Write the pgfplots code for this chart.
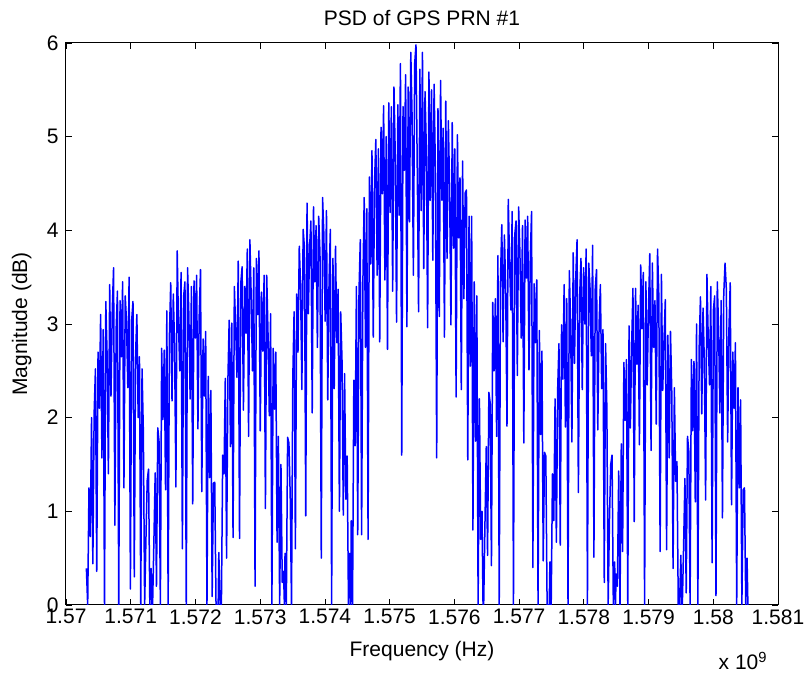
\documentclass[border=0pt]{standalone}
\usepackage{fontspec}
\setmainfont{Liberation Sans}
\usepackage{pgfplots}
\pgfplotsset{compat=1.18}
\begin{document}
\fontsize{10.5}{12.6}\selectfont
\begin{tikzpicture}
\begin{axis}[
  name=ax,
  scale only axis, width=356pt, height=281pt,
  xmin=0, xmax=11000, ymin=0, ymax=6,
  scaled x ticks=false,
  xtick={0,1000,2000,3000,4000,5000,6000,7000,8000,9000,10000,11000},
  xticklabels={1.57,1.571,1.572,1.573,1.574,1.575,1.576,1.577,1.578,1.579,1.58,1.581},
  ytick={0,1,2,3,4,5,6},
  tick align=inside, major tick length=3pt,
  tick style={black, line width=0.4pt},
  axis line style={black, line width=0.5pt},
  /pgf/number format/assume math mode=true,
  ticklabel style={font=\fontsize{10.5}{12.6}\selectfont},
  xticklabel style={yshift=1.5pt},
]
\addplot[color={rgb,1:red,0;green,0;blue,1}, line width=0.75pt, line join=round] coordinates {
(315,0.39)(335,0)(355,1.25)(375,0.73)(395,2.0)(415,0.44)(435,2.05)(455,2.52)(475,0.36)(495,2.7)
(515,2.1)(535,3.1)(555,1.57)(575,2.94)(595,0)(615,3.24)(635,2.67)(655,1.4)(675,3.42)(695,2.23)
(715,3.15)(735,3.6)(755,0.85)(775,2.95)(795,3.35)(815,0)(835,3.25)(855,2.65)(875,3.45)(895,1.25)
(915,3.3)(935,3.03)(955,2.32)(975,3.5)(995,0.17)(1015,3.04)(1035,3.24)(1055,0.3)(1075,2.67)(1095,3.1)
(1115,2.0)(1135,2.65)(1155,0)(1175,2.52)(1195,1.85)(1215,0)(1235,0.7)(1255,1.33)(1275,1.45)(1295,0)
(1315,0.39)(1328,0)
(1338,0)(1358,0.68)(1378,1.41)(1398,0.2)(1418,1.89)(1438,1.74)(1458,0)(1478,2.74)(1498,1.98)(1518,2.72)
(1538,1.23)(1558,3.14)(1578,0)(1598,2.88)(1618,3.44)(1638,2.18)(1658,3.32)(1678,2.75)(1698,1.26)(1718,3.78)
(1738,3.0)(1758,2.5)(1778,3.55)(1798,0.6)(1818,3.3)(1838,3.45)(1858,0)(1878,3.6)(1898,3.1)(1918,2.2)
(1938,3.4)(1958,1.08)(1978,3.46)(1998,2.85)(2018,3.52)(2038,1.88)(2058,3.09)(2078,3.58)(2098,1.21)(2118,2.84)
(2138,2.23)(2158,2.92)(2178,0)(2198,2.44)(2218,1.36)(2238,2.29)(2258,0.09)(2278,1.3)(2298,1.31)(2318,0)
(2338,0)(2351,0)
(2361,0.56)(2381,0)(2401,0)(2421,1.6)(2441,1.4)(2461,2.42)(2481,0.5)(2501,2.39)(2521,3.04)(2541,1.69)
(2561,3.01)(2581,0.72)(2601,3.4)(2621,2.97)(2641,2.43)(2661,3.67)(2681,0.71)(2701,3.44)(2721,3.61)(2741,2.08)
(2761,3.4)(2781,2.9)(2801,3.8)(2821,1.8)(2841,3.9)(2861,3.3)(2881,2.5)(2901,3.6)(2921,0.2)(2941,3.7)
(2961,3.1)(2981,3.78)(3001,1.86)(3021,3.34)(3041,2.71)(3061,3.52)(3081,1.03)(3101,3.52)(3121,2.9)(3141,2.02)
(3161,3.11)(3181,0)(3201,2.74)(3221,2.09)(3241,2.7)(3261,0.67)(3281,1.8)(3301,0)(3321,1.5)(3341,0.24)
(3361,0.36)(3374,0)
(3384,0.55)(3404,0)(3424,1.79)(3444,1.73)(3464,1.17)(3484,0)(3504,2.42)(3524,3.13)(3544,0.6)(3564,3.32)
(3584,2.7)(3604,3.83)(3624,3.41)(3644,2.3)(3664,4.01)(3684,3.81)(3704,0.95)(3724,4.29)(3744,3.11)(3764,3.83)
(3784,4.1)(3804,2.05)(3824,4.25)(3844,3.45)(3864,4.05)(3884,2.75)(3904,4.15)(3924,3.75)(3944,0.5)(3964,4.35)
(3984,3.95)(4004,3.03)(4024,4.21)(4044,2.19)(4064,3.45)(4084,4.01)(4104,0)(4124,3.7)(4144,2.31)(4164,3.83)
(4184,2.8)(4204,3.37)(4224,1.0)(4244,3.13)(4264,2.62)(4284,0.96)(4304,2.47)(4324,1.13)(4344,1.59)(4364,0)
(4384,0.55)(4397,0)
(4407,0.9)(4427,0)(4447,2.4)(4467,1.7)(4487,3.4)(4507,0.75)(4527,3.35)(4547,3.9)(4567,0.75)(4587,3.45)
(4607,4.35)(4627,2.75)(4647,4.23)(4667,0.7)(4687,4.57)(4707,3.64)(4727,4.85)(4747,2.86)(4767,4.52)(4787,4.97)
(4807,3.52)(4827,4.87)(4847,2.81)(4867,5.1)(4887,4.39)(4907,5.33)(4927,3.47)(4947,5.0)(4967,2.73)(4987,5.36)
(5007,4.19)(5027,5.32)(5047,3.35)(5067,5.53)(5087,4.8)(5107,3.02)(5127,5.34)(5147,4.16)(5167,5.78)(5187,1.6)
(5207,5.32)(5227,4.64)(5247,5.66)(5267,2.97)(5287,5.53)(5307,4.09)(5327,5.9)(5347,5.21)(5367,3.52)(5387,5.78)
(5407,5.98)(5427,4.64)(5447,3.13)(5467,5.72)(5487,4.21)(5507,5.9)(5527,3.59)(5547,5.48)(5567,4.87)(5587,2.96)
(5607,5.69)(5627,4.32)(5647,5.5)(5667,3.68)(5687,5.56)(5707,4.64)(5727,1.57)(5747,5.3)(5767,3.08)(5787,5.6)
(5807,4.32)(5827,5.09)(5847,2.86)(5867,5.38)(5887,3.7)(5907,5.17)(5927,4.43)(5947,2.99)(5967,5.15)(5987,3.81)
(6007,4.87)(6027,2.22)(6047,5.02)(6067,3.92)(6087,4.56)(6107,2.3)(6127,4.74)(6147,3.27)(6167,4.4)(6187,4.43)
(6207,1.55)(6227,4.15)(6247,2.55)(6267,4.15)(6287,0.8)(6307,3.45)(6327,1.75)(6347,3.3)(6367,0)(6387,2.2)
(6407,0.7)(6427,1.0)(6443,0)
(6453,0)(6473,0.88)(6493,1.69)(6513,0.53)(6533,2.27)(6553,2.16)(6573,0.42)(6593,3.23)(6613,2.5)(6633,3.27)
(6653,1.8)(6673,3.73)(6693,0)(6713,3.5)(6733,4.06)(6753,2.81)(6773,3.95)(6793,3.39)(6813,1.91)(6833,4.33)
(6853,3.65)(6873,3.15)(6893,4.2)(6913,0)(6933,3.95)(6953,4.1)(6973,2.45)(6993,4.25)(7013,3.75)(7033,2.85)
(7053,4.05)(7073,1.73)(7093,4.11)(7113,3.49)(7133,4.15)(7153,2.51)(7173,3.71)(7193,4.2)(7213,0.4)(7233,3.43)
(7253,2.8)(7273,3.47)(7293,0)(7313,2.93)(7333,1.82)(7353,2.71)(7373,0.47)(7393,1.63)(7413,1.59)(7433,0)
(7453,0)(7466,0)
(7476,0.46)(7496,0)(7516,1.4)(7536,0.9)(7556,2.2)(7576,0.67)(7596,2.3)(7616,2.79)(7636,0.64)(7656,2.99)
(7676,2.41)(7696,3.42)(7716,1.9)(7736,3.27)(7756,0)(7776,3.57)(7796,3.01)(7816,1.74)(7836,3.76)(7856,2.58)
(7876,3.5)(7896,3.9)(7916,1.2)(7936,3.3)(7956,3.7)(7976,2.3)(7996,3.6)(8016,3.0)(8036,3.8)(8056,0)
(8076,3.65)(8096,3.38)(8116,2.66)(8136,3.84)(8156,0.51)(8176,3.37)(8196,3.58)(8216,1.87)(8236,3.0)(8256,3.42)
(8276,2.31)(8296,2.94)(8316,0.24)(8336,2.79)(8356,2.1)(8376,0)(8396,0.9)(8416,1.5)(8436,1.6)(8456,0)
(8476,0.46)(8489,0)
(8499,0.33)(8519,0.2)(8539,1.43)(8559,0)(8579,1.72)(8599,0.57)(8619,2.59)(8639,1.97)(8659,2.62)(8679,0)
(8699,2.98)(8719,1.89)(8739,2.76)(8759,3.38)(8779,0.89)(8799,3.38)(8819,2.57)(8839,3.2)(8859,1.71)(8879,3.63)
(8899,2.95)(8919,3.55)(8939,0)(8959,3.45)(8979,2.35)(8999,3.15)(9019,3.75)(9039,1.65)(9059,3.65)(9079,2.75)
(9099,3.25)(9119,1.93)(9139,3.8)(9159,3.3)(9179,0.57)(9199,3.53)(9219,2.29)(9239,2.83)(9259,3.26)(9279,0.59)
(9299,2.88)(9319,1.57)(9339,2.92)(9359,2.27)(9379,0.39)(9399,2.32)(9419,1.32)(9439,1.53)(9459,0)(9479,0)
(9499,0.53)(9512,0)
(9522,0)(9542,0.64)(9562,1.35)(9582,0.13)(9602,1.8)(9622,1.64)(9642,0)(9662,2.62)(9682,1.86)(9702,2.6)
(9722,1.1)(9742,3.0)(9762,0)(9782,2.74)(9802,3.29)(9822,2.04)(9842,3.17)(9862,2.6)(9882,1.12)(9902,3.53)
(9922,2.85)(9942,2.35)(9962,3.4)(9982,0.45)(10002,3.15)(10022,3.3)(10042,0.1)(10062,3.45)(10082,2.95)(10102,2.05)
(10122,3.25)(10142,0.93)(10162,3.32)(10182,3.65)(10202,3.37)(10222,1.74)(10242,2.94)(10262,3.44)(10282,1.07)(10302,2.7)
(10322,2.1)(10342,2.8)(10362,0)(10382,2.32)(10402,1.25)(10422,2.19)(10442,0)(10462,1.23)(10482,1.25)(10502,0)
(10522,0.5)(10535,0)
};
\end{axis}
\node[anchor=base] at ([yshift=8.5pt]ax.north) {PSD of GPS PRN \#1};
\node[anchor=base] at ([yshift=-26pt]ax.south) {Frequency (Hz)};
\node[anchor=base, rotate=90] at ([xshift=-19.5pt]ax.west) {Magnitude (dB)};
\node[anchor=base east, inner sep=0pt] at ([shift={(-5pt,-32.5pt)}]ax.south east) {x 10\textsuperscript{9}};
\pgfresetboundingbox
\path ([shift={(-33pt,-35pt)}]ax.south west) rectangle ([shift={(13pt,21.5pt)}]ax.north east);
\end{tikzpicture}
\end{document}
